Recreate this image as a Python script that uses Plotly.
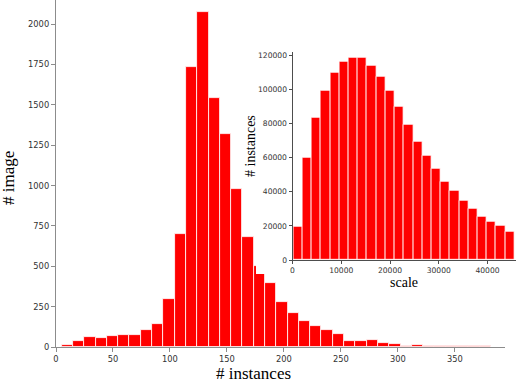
import plotly.graph_objects as go

# main histogram: counts per bin of "# instances"
main_bin_start = 5.0
main_bin_width = 9.91
main_counts = [15, 40, 64, 56, 68, 76, 72, 105, 140, 300,
               702, 1733, 2074, 1545, 1322, 980, 680, 500, 397, 281,
               213, 163, 128, 105, 83, 37, 37, 41, 27, 21,
               8, 12, 4, 8, 8, 8, 4, 8, 2]
main_xticks = [0, 50, 100, 150, 200, 250, 300, 350]
main_yticks = [0, 250, 500, 750, 1000, 1250, 1500, 1750, 2000]

# inset histogram: counts per bin of "scale"
inset_bin_start = 160
inset_bin_width = 1889
inset_counts = [19400, 60200, 83300, 99000, 109900, 116100, 118450, 118450,
                114000, 107400, 99000, 89700, 79000, 69500, 61000, 53200,
                46000, 40300, 34500, 30100, 25600, 22700, 19800, 16700]
inset_xticks = [0, 10000, 20000, 30000, 40000]
inset_yticks = [0, 20000, 40000, 60000, 80000, 100000, 120000]

W, H = 516, 382


def px_x(p):
    return p / W


def px_y(p):
    # pixel row measured from top -> paper fraction
    return (H - p) / H


main_x = [main_bin_start + (i + 0.5) * main_bin_width for i in range(len(main_counts))]
inset_x = [inset_bin_start + (i + 0.5) * inset_bin_width for i in range(len(inset_counts))]

fig = go.Figure()

fig.add_trace(go.Bar(
    x=main_x, y=main_counts, width=main_bin_width,
    marker=dict(color="#ff0000", line=dict(color="white", width=0.8)),
    xaxis="x", yaxis="y", showlegend=False,
))

# empty subplot whose white background hides the main bars behind the inset
fig.add_trace(go.Scatter(x=[], y=[], xaxis="x2", yaxis="y2", showlegend=False))

fig.add_trace(go.Bar(
    x=inset_x, y=inset_counts, width=inset_bin_width,
    marker=dict(color="#ff0000", line=dict(color="white", width=0.8)),
    xaxis="x3", yaxis="y3", showlegend=False,
))

tick_font = dict(family="DejaVu Sans", size=8.3, color="#333333")
inset_tick_font = dict(family="DejaVu Sans", size=7.6, color="#333333")

fig.update_layout(
    width=W, height=H,
    margin=dict(l=0, r=0, t=0, b=0, autoexpand=False),
    paper_bgcolor="white",
    plot_bgcolor="#ffffff",
    bargap=0,
    xaxis=dict(
        domain=[px_x(56), px_x(505)], range=[0, 394], anchor="y",
        showline=True, linecolor="#8c8c8c", linewidth=1.3,
        ticks="outside", ticklen=4, tickcolor="#8c8c8c",
        tickvals=main_xticks, tickfont=tick_font,
        showgrid=False, zeroline=False,
    ),
    yaxis=dict(
        domain=[px_y(347), 1], range=[0, 2150], anchor="x",
        showline=True, linecolor="#8c8c8c", linewidth=1.3,
        ticks="outside", ticklen=4, tickcolor="#8c8c8c",
        tickvals=main_yticks, tickfont=tick_font,
        showgrid=False, zeroline=False,
    ),
    xaxis2=dict(domain=[px_x(256), 1], range=[0, 1], anchor="y2", visible=False),
    yaxis2=dict(domain=[px_y(274), 1], range=[0, 1], anchor="x2", visible=False),
    xaxis3=dict(
        domain=[px_x(292.5), 1], range=[0, 45846], anchor="y3",
        showline=True, linecolor="#4d4d4d", linewidth=1,
        ticks="outside", ticklen=3, tickcolor="#4d4d4d",
        tickvals=inset_xticks, tickformat="d", tickfont=inset_tick_font,
        showgrid=False, zeroline=False,
    ),
    yaxis3=dict(
        domain=[px_y(260), px_y(51.7)], range=[0, 122000], anchor="x3",
        showline=True, linecolor="#4d4d4d", linewidth=1,
        ticks="outside", ticklen=3, tickcolor="#4d4d4d",
        tickvals=inset_yticks, tickformat="d", tickfont=inset_tick_font,
        showgrid=False, zeroline=False,
    ),
)

title_font = dict(family="Liberation Serif", color="black")
annotations = [
    dict(text="# instances", x=px_x(253), y=px_y(373.5), size=17, angle=0),
    dict(text="# image", x=px_x(8), y=px_y(178), size=17, angle=-90),
    dict(text="# instances", x=px_x(250), y=px_y(146), size=14, angle=-90),
    dict(text="scale", x=px_x(403.5), y=px_y(282), size=14, angle=0),
]
for a in annotations:
    fig.add_annotation(
        text=a["text"], x=a["x"], y=a["y"], xref="paper", yref="paper",
        xanchor="center", yanchor="middle", showarrow=False,
        textangle=a["angle"], font=dict(size=a["size"], **title_font),
    )

# drop the browser's default body margin so the figure sits at the page corner
fig.write_html(
    "out.html",
    config={"displayModeBar": False},
    post_script="document.body.style.margin = '0';",
)
